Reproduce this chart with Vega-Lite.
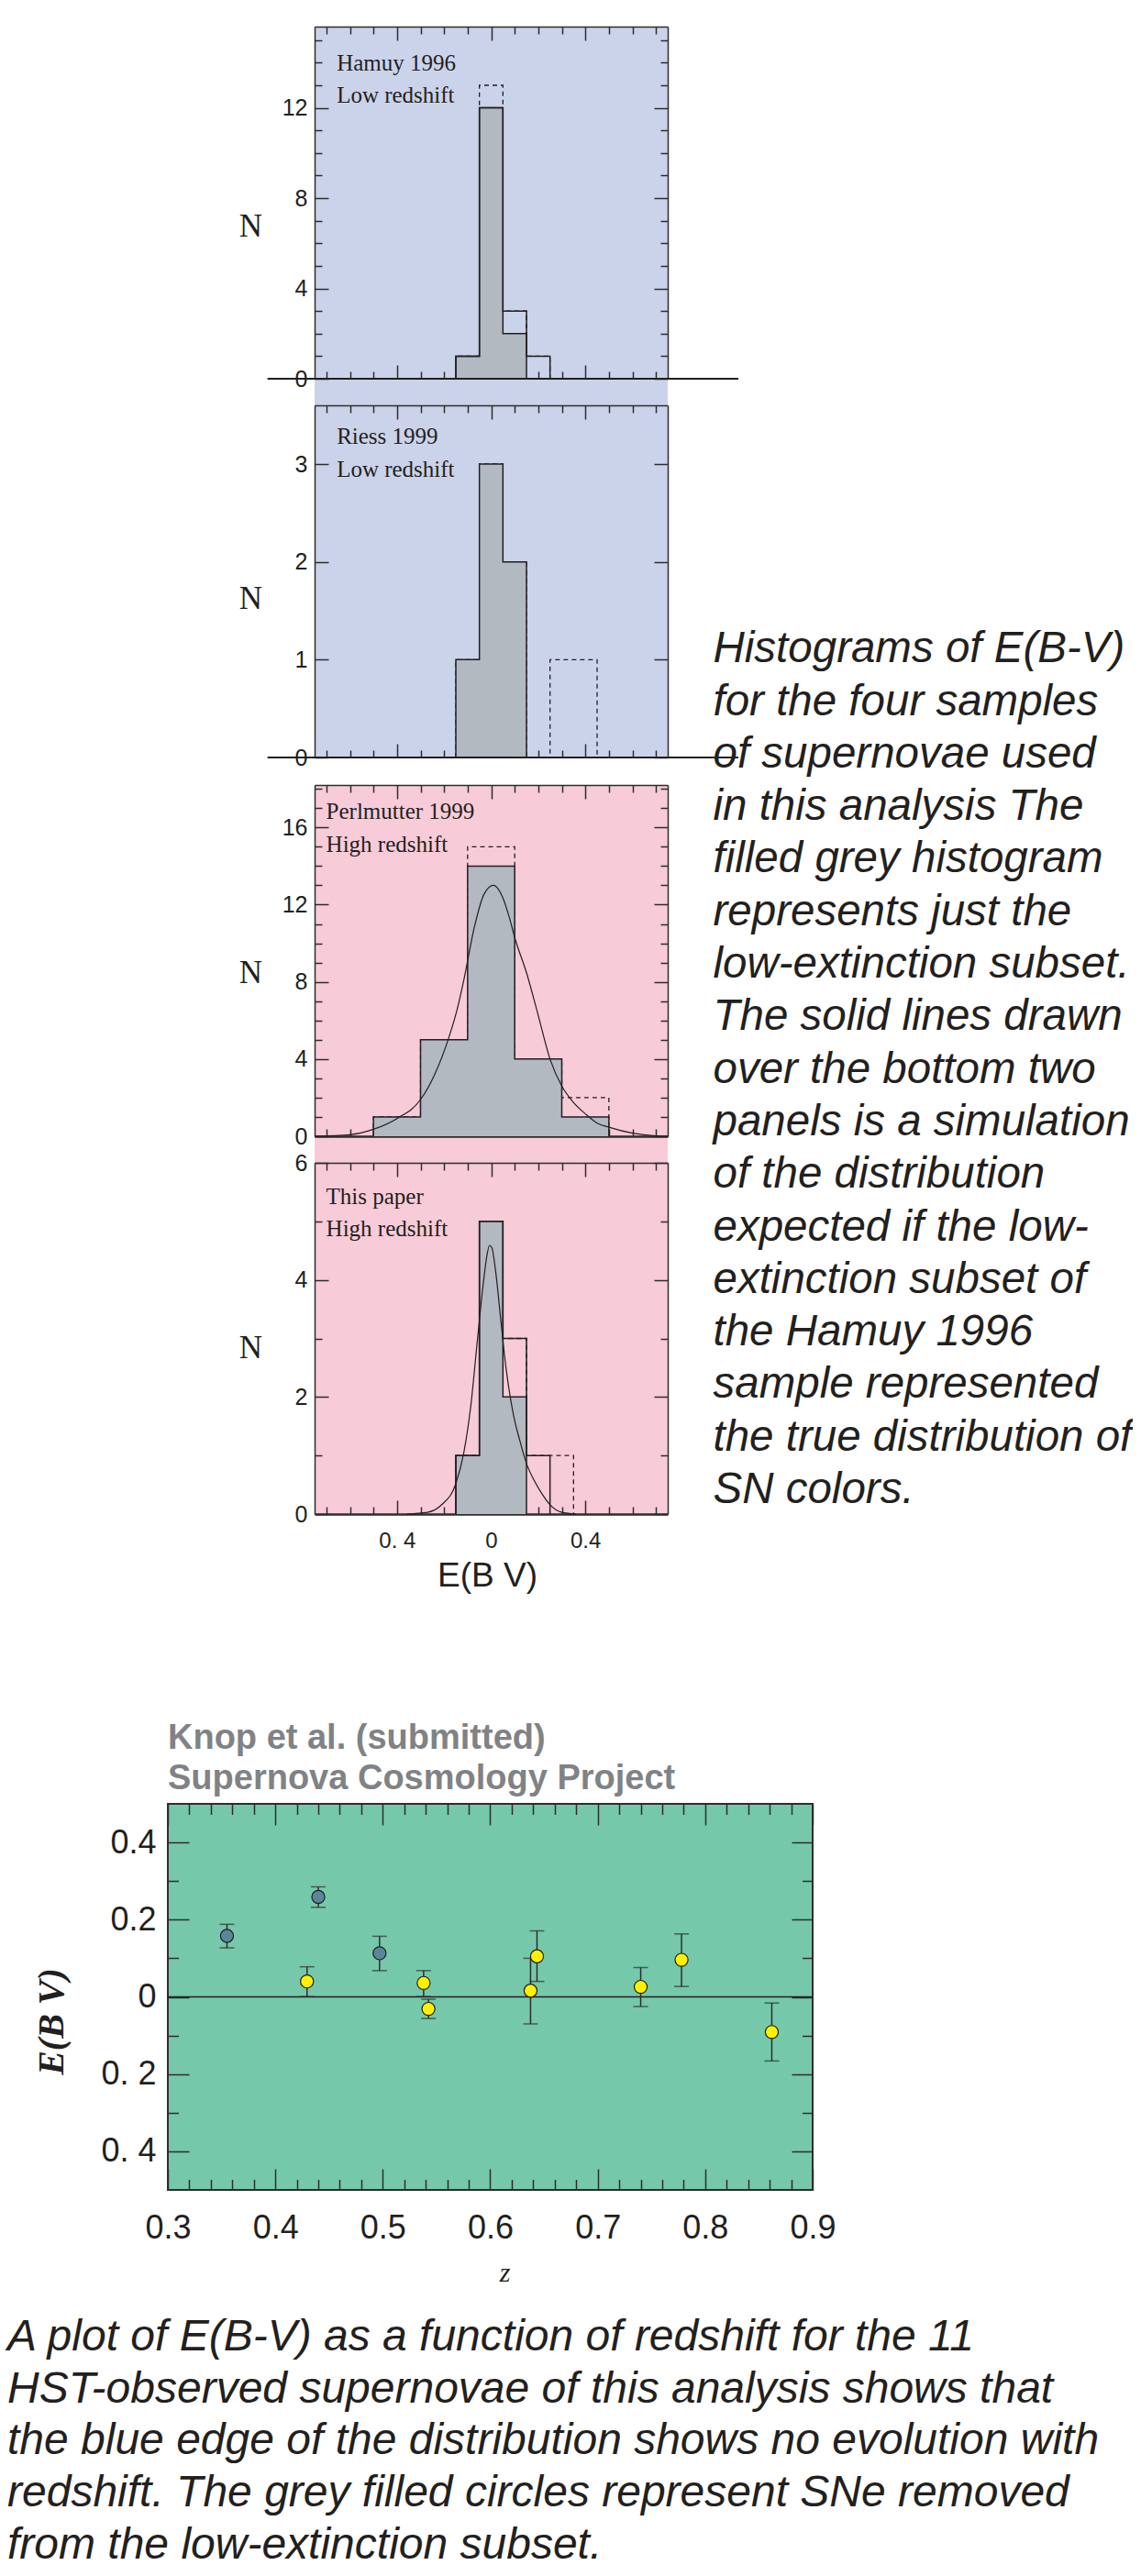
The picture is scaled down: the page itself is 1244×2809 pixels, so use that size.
{
  "$schema": "https://vega.github.io/schema/vega-lite/v6.json",
  "background": "white",
  "padding": {"left": 8, "top": 28, "right": 0, "bottom": 0},
  "autosize": {"type": "pad"},
  "spacing": 140,
  "title": {
    "text": ["A plot of E(B-V) as a function of redshift for the 11", "HST-observed supernovae of this analysis shows that", "the blue edge of the distribution shows no evolution with", "redshift.  The grey filled circles represent SNe removed", "from the low-extinction subset."],
    "orient": "bottom", "anchor": "start", "frame": "group", "dx": -175, "offset": 69, "baseline": "alphabetic",
    "font": "Liberation Sans", "fontSize": 48, "fontStyle": "italic", "fontWeight": "normal", "lineHeight": 56.7, "color": "#231f20"
  },
  "datasets": {
    "hist": [
      {"p": 1, "s": "all", "i": 0, "x": -0.15, "n": 0}, {"p": 1, "s": "all", "i": 1, "x": -0.15, "n": 1}, {"p": 1, "s": "all", "i": 2, "x": -0.05, "n": 13}, {"p": 1, "s": "all", "i": 3, "x": 0.05, "n": 3}, {"p": 1, "s": "all", "i": 4, "x": 0.15, "n": 1}, {"p": 1, "s": "all", "i": 5, "x": 0.25, "n": 0},
      {"p": 1, "s": "sub", "i": 0, "x": -0.15, "n": 0}, {"p": 1, "s": "sub", "i": 1, "x": -0.15, "n": 1}, {"p": 1, "s": "sub", "i": 2, "x": -0.05, "n": 12}, {"p": 1, "s": "sub", "i": 3, "x": 0.05, "n": 3}, {"p": 1, "s": "sub", "i": 4, "x": 0.15, "n": 1}, {"p": 1, "s": "sub", "i": 5, "x": 0.25, "n": 0},
      {"p": 1, "s": "low", "i": 0, "x": -0.15, "n": 0}, {"p": 1, "s": "low", "i": 1, "x": -0.15, "n": 1}, {"p": 1, "s": "low", "i": 2, "x": -0.05, "n": 12}, {"p": 1, "s": "low", "i": 3, "x": 0.05, "n": 2}, {"p": 1, "s": "low", "i": 4, "x": 0.15, "n": 0},
      {"p": 2, "s": "all", "i": 0, "x": -0.15, "n": 0}, {"p": 2, "s": "all", "i": 1, "x": -0.15, "n": 1}, {"p": 2, "s": "all", "i": 2, "x": -0.05, "n": 3}, {"p": 2, "s": "all", "i": 3, "x": 0.05, "n": 2}, {"p": 2, "s": "all", "i": 4, "x": 0.15, "n": 0}, {"p": 2, "s": "all", "i": 5, "x": 0.25, "n": 1}, {"p": 2, "s": "all", "i": 6, "x": 0.35, "n": 1}, {"p": 2, "s": "all", "i": 7, "x": 0.45, "n": 0},
      {"p": 2, "s": "low", "i": 0, "x": -0.15, "n": 0}, {"p": 2, "s": "low", "i": 1, "x": -0.15, "n": 1}, {"p": 2, "s": "low", "i": 2, "x": -0.05, "n": 3}, {"p": 2, "s": "low", "i": 3, "x": 0.05, "n": 2}, {"p": 2, "s": "low", "i": 4, "x": 0.15, "n": 0},
      {"p": 3, "s": "all", "i": 0, "x": -0.5, "n": 0}, {"p": 3, "s": "all", "i": 1, "x": -0.5, "n": 1}, {"p": 3, "s": "all", "i": 2, "x": -0.3, "n": 5}, {"p": 3, "s": "all", "i": 3, "x": -0.1, "n": 15}, {"p": 3, "s": "all", "i": 4, "x": 0.1, "n": 4}, {"p": 3, "s": "all", "i": 5, "x": 0.3, "n": 2}, {"p": 3, "s": "all", "i": 6, "x": 0.5, "n": 0},
      {"p": 3, "s": "low", "i": 0, "x": -0.5, "n": 0}, {"p": 3, "s": "low", "i": 1, "x": -0.5, "n": 1}, {"p": 3, "s": "low", "i": 2, "x": -0.3, "n": 5}, {"p": 3, "s": "low", "i": 3, "x": -0.1, "n": 14}, {"p": 3, "s": "low", "i": 4, "x": 0.1, "n": 4}, {"p": 3, "s": "low", "i": 5, "x": 0.3, "n": 1}, {"p": 3, "s": "low", "i": 6, "x": 0.5, "n": 0},
      {"p": 4, "s": "all", "i": 0, "x": -0.15, "n": 0}, {"p": 4, "s": "all", "i": 1, "x": -0.15, "n": 1}, {"p": 4, "s": "all", "i": 2, "x": -0.05, "n": 5}, {"p": 4, "s": "all", "i": 3, "x": 0.05, "n": 3}, {"p": 4, "s": "all", "i": 4, "x": 0.15, "n": 1}, {"p": 4, "s": "all", "i": 5, "x": 0.25, "n": 1}, {"p": 4, "s": "all", "i": 6, "x": 0.35, "n": 0},
      {"p": 4, "s": "sub", "i": 0, "x": -0.15, "n": 0}, {"p": 4, "s": "sub", "i": 1, "x": -0.15, "n": 1}, {"p": 4, "s": "sub", "i": 2, "x": -0.05, "n": 5}, {"p": 4, "s": "sub", "i": 3, "x": 0.05, "n": 3}, {"p": 4, "s": "sub", "i": 4, "x": 0.15, "n": 1}, {"p": 4, "s": "sub", "i": 5, "x": 0.25, "n": 0},
      {"p": 4, "s": "low", "i": 0, "x": -0.15, "n": 0}, {"p": 4, "s": "low", "i": 1, "x": -0.15, "n": 1}, {"p": 4, "s": "low", "i": 2, "x": -0.05, "n": 5}, {"p": 4, "s": "low", "i": 3, "x": 0.05, "n": 2}, {"p": 4, "s": "low", "i": 4, "x": 0.15, "n": 0}
    ],
    "sim": [
      {"p": 3, "x": -0.75, "n": 0}, {"p": 3, "x": -0.6, "n": 0.08}, {"p": 3, "x": -0.5, "n": 0.36}, {"p": 3, "x": -0.4, "n": 0.92}, {"p": 3, "x": -0.3, "n": 1.9}, {"p": 3, "x": -0.24, "n": 3.2}, {"p": 3, "x": -0.18, "n": 5.1}, {"p": 3, "x": -0.146, "n": 6.5}, {"p": 3, "x": -0.116, "n": 8.1}, {"p": 3, "x": -0.072, "n": 10.8}, {"p": 3, "x": -0.03, "n": 12.55}, {"p": 3, "x": 0.01, "n": 13.0}, {"p": 3, "x": 0.048, "n": 12.4}, {"p": 3, "x": 0.078, "n": 11.3}, {"p": 3, "x": 0.1, "n": 10.3}, {"p": 3, "x": 0.152, "n": 8.4}, {"p": 3, "x": 0.197, "n": 6.4}, {"p": 3, "x": 0.25, "n": 4.0}, {"p": 3, "x": 0.3, "n": 2.6}, {"p": 3, "x": 0.346, "n": 1.8}, {"p": 3, "x": 0.4, "n": 1.16}, {"p": 3, "x": 0.45, "n": 0.68}, {"p": 3, "x": 0.5, "n": 0.47}, {"p": 3, "x": 0.6, "n": 0.16}, {"p": 3, "x": 0.7, "n": 0.02}, {"p": 3, "x": 0.75, "n": 0},
      {"p": 4, "x": -0.36, "n": 0}, {"p": 4, "x": -0.27, "n": 0.03}, {"p": 4, "x": -0.21, "n": 0.16}, {"p": 4, "x": -0.15, "n": 0.52}, {"p": 4, "x": -0.116, "n": 1.05}, {"p": 4, "x": -0.087, "n": 1.83}, {"p": 4, "x": -0.057, "n": 3.03}, {"p": 4, "x": -0.034, "n": 3.92}, {"p": 4, "x": -0.019, "n": 4.39}, {"p": 4, "x": -0.007, "n": 4.59}, {"p": 4, "x": 0.003, "n": 4.55}, {"p": 4, "x": 0.018, "n": 4.18}, {"p": 4, "x": 0.04, "n": 3.35}, {"p": 4, "x": 0.063, "n": 2.5}, {"p": 4, "x": 0.093, "n": 1.73}, {"p": 4, "x": 0.122, "n": 1.25}, {"p": 4, "x": 0.152, "n": 0.84}, {"p": 4, "x": 0.182, "n": 0.58}, {"p": 4, "x": 0.212, "n": 0.37}, {"p": 4, "x": 0.25, "n": 0.16}, {"p": 4, "x": 0.3, "n": 0.03}, {"p": 4, "x": 0.36, "n": 0}
    ],
    "labels": [
      {"p": 1, "label": ["Hamuy 1996", "Low redshift"]},
      {"p": 2, "label": ["Riess 1999", "Low redshift"]},
      {"p": 3, "label": ["Perlmutter 1999", "High redshift"]},
      {"p": 4, "label": ["This paper", "High redshift"]}
    ],
    "sn": [
      {"z": 0.355, "e": 0.158, "lo": 0.127, "hi": 0.188, "set": "removed"},
      {"z": 0.440, "e": 0.259, "lo": 0.232, "hi": 0.285, "set": "removed"},
      {"z": 0.4295, "e": 0.040, "lo": 0.001, "hi": 0.078, "set": "kept"},
      {"z": 0.497, "e": 0.113, "lo": 0.068, "hi": 0.157, "set": "removed"},
      {"z": 0.538, "e": 0.036, "lo": 0.001, "hi": 0.068, "set": "kept"},
      {"z": 0.5425, "e": -0.031, "lo": -0.056, "hi": -0.006, "set": "kept"},
      {"z": 0.6375, "e": 0.016, "lo": -0.070, "hi": 0.100, "set": "kept"},
      {"z": 0.6435, "e": 0.105, "lo": 0.040, "hi": 0.171, "set": "kept"},
      {"z": 0.740, "e": 0.026, "lo": -0.025, "hi": 0.076, "set": "kept"},
      {"z": 0.778, "e": 0.096, "lo": 0.027, "hi": 0.163, "set": "kept"},
      {"z": 0.862, "e": -0.091, "lo": -0.166, "hi": -0.016, "set": "kept"}
    ],
    "capR": [
      {"line": 1, "text": "Histograms of E(B-V)"}, {"line": 2, "text": "for the four samples"}, {"line": 3, "text": "of supernovae used"}, {"line": 4, "text": "in this analysis The"}, {"line": 5, "text": "filled grey histogram"}, {"line": 6, "text": "represents just the"}, {"line": 7, "text": "low-extinction subset."}, {"line": 8, "text": "The solid lines drawn"}, {"line": 9, "text": "over the bottom two"}, {"line": 10, "text": "panels is a simulation"}, {"line": 11, "text": "of the distribution"}, {"line": 12, "text": "expected if the low-"}, {"line": 13, "text": "extinction subset of"}, {"line": 14, "text": "the Hamuy 1996"}, {"line": 15, "text": "sample represented"}, {"line": 16, "text": "the true distribution of"}, {"line": 17, "text": "SN colors."}
    ]
  },
  "vconcat": [
    {
      "spacing": -26,
      "hconcat": [
        {"width": 103, "height": 1, "data": {"values": []}, "mark": "point"},
        {
          "spacing": 434, "bounds": "flush",
          "hconcat": [
            {
              "spacing": 9,
              "vconcat": [
                {
                  "spacing": 0, "bounds": "flush",
                  "vconcat": [
                    {
                      "width": 385, "height": 413,
                      "view": {"fill": "#cbd3ea"},
                      "resolve": {"axis": {"x": "independent", "y": "independent"}},
                      "layer": [
                        {"data": {"name": "hist"}, "transform": [{"filter": "datum.p == 1 && datum.s == 'all'"}],
                         "mark": {"type": "line", "interpolate": "step-after", "color": "#231f20", "strokeWidth": 1.3, "strokeDash": [5, 4]},
                         "encoding": {
                           "x": {"field": "x", "type": "quantitative", "scale": {"domain": [-0.75, 0.75], "nice": false, "zero": false}, "axis": null},
                           "y": {"field": "n", "type": "quantitative", "scale": {"domain": [0, 15.6], "range": [384, 0], "nice": false, "zero": false}, "axis": null},
                           "order": {"field": "i", "type": "quantitative"}}},
                        {"data": {"name": "hist"}, "transform": [{"filter": "datum.p == 1 && datum.s == 'low' && datum.i > 0"}],
                         "mark": {"type": "area", "interpolate": "step-after", "color": "#b3b9c1", "opacity": 1},
                         "encoding": {
                           "x": {"field": "x", "type": "quantitative", "scale": {"domain": [-0.75, 0.75], "nice": false, "zero": false},
                                 "axis": {"orient": "bottom", "offset": -29, "domain": false, "labels": false, "title": null, "values": [-0.7,-0.6,-0.5,-0.4,-0.3,-0.2,-0.1,0,0.1,0.2,0.3,0.4,0.5,0.6,0.7], "tickSize": {"condition": {"test": "abs(datum.value*2.5 - round(datum.value*2.5)) < 0.001", "value": -15}, "value": -8}}},
                           "y": {"field": "n", "type": "quantitative", "scale": {"domain": [0, 15.6], "range": [384, 0], "nice": false, "zero": false},
                                 "axis": {"orient": "left", "domain": true, "values": [0,1,2,3,4,5,6,7,8,9,10,11,12,13,14,15], "tickSize": {"condition": {"test": "datum.value % 4 == 0", "value": -15}, "value": -8}, "labelExpr": "datum.value % 4 == 0 ? datum.label : ''", "labelFontSize": 25, "labelPadding": 23, "title": "N", "titleFont": "Liberation Serif", "titleFontSize": 35, "titleFontWeight": "normal", "titleAngle": 0, "titleAlign": "center", "titleBaseline": "middle", "titleX": -70, "titleY": 217}},
                           "y2": {"datum": 0}}},
                        {"data": {"name": "hist"}, "transform": [{"filter": "datum.p == 1 && datum.s == 'low'"}],
                         "mark": {"type": "line", "interpolate": "step-after", "color": "#231f20", "strokeWidth": 1.5},
                         "encoding": {
                           "x": {"field": "x", "type": "quantitative", "scale": {"domain": [-0.75, 0.75], "nice": false, "zero": false},
                                 "axis": {"orient": "top", "domain": true, "labels": false, "title": null, "values": [-0.7,-0.6,-0.5,-0.4,-0.3,-0.2,-0.1,0,0.1,0.2,0.3,0.4,0.5,0.6,0.7], "tickSize": {"condition": {"test": "abs(datum.value*2.5 - round(datum.value*2.5)) < 0.001", "value": -15}, "value": -8}}},
                           "y": {"field": "n", "type": "quantitative", "scale": {"domain": [0, 15.6], "range": [384, 0], "nice": false, "zero": false},
                                 "axis": {"orient": "right", "domain": true, "labels": false, "title": null, "values": [0,1,2,3,4,5,6,7,8,9,10,11,12,13,14,15], "tickSize": {"condition": {"test": "datum.value % 4 == 0", "value": -15}, "value": -8}}},
                           "order": {"field": "i", "type": "quantitative"}}},
                        {"data": {"name": "hist"}, "transform": [{"filter": "datum.p == 1 && datum.s == 'sub'"}],
                         "mark": {"type": "line", "interpolate": "step-after", "color": "#231f20", "strokeWidth": 1.5},
                         "encoding": {
                           "x": {"field": "x", "type": "quantitative", "scale": {"domain": [-0.75, 0.75], "nice": false, "zero": false}, "axis": null},
                           "y": {"field": "n", "type": "quantitative", "scale": {"domain": [0, 15.6], "range": [384, 0], "nice": false, "zero": false}, "axis": null},
                           "order": {"field": "i", "type": "quantitative"}}},
                        {"data": {"values": [{}]},
                         "mark": {"type": "rule", "color": "#231f20", "strokeWidth": 2},
                         "encoding": {
                           "x": {"datum": -0.95, "type": "quantitative", "scale": {"domain": [-0.75, 0.75], "nice": false, "zero": false}, "axis": null},
                           "x2": {"datum": 1.05},
                           "y": {"datum": 0, "type": "quantitative", "scale": {"domain": [0, 15.6], "range": [384, 0], "nice": false, "zero": false}, "axis": null}}},
                        {"data": {"name": "labels"}, "transform": [{"filter": "datum.p == 1"}],
                         "mark": {"type": "text", "align": "left", "baseline": "alphabetic", "font": "Liberation Serif", "fontSize": 25, "lineHeight": 35, "color": "#231f20"},
                         "encoding": {
                           "x": {"datum": -0.656, "type": "quantitative", "scale": {"domain": [-0.75, 0.75], "nice": false, "zero": false}, "axis": null},
                           "y": {"datum": 13.66, "type": "quantitative", "scale": {"domain": [0, 15.6], "range": [384, 0], "nice": false, "zero": false}, "axis": null},
                           "text": {"field": "label"}}}
                      ]
                    },
                    {
                      "width": 385, "height": 384,
                      "view": {"fill": "#cbd3ea"},
                      "resolve": {"axis": {"x": "independent", "y": "independent"}},
                      "layer": [
                        {"data": {"name": "hist"}, "transform": [{"filter": "datum.p == 2 && datum.s == 'all'"}],
                         "mark": {"type": "line", "interpolate": "step-after", "color": "#231f20", "strokeWidth": 1.3, "strokeDash": [5, 4]},
                         "encoding": {
                           "x": {"field": "x", "type": "quantitative", "scale": {"domain": [-0.75, 0.75], "nice": false, "zero": false}, "axis": null},
                           "y": {"field": "n", "type": "quantitative", "scale": {"domain": [0, 3.6], "nice": false, "zero": false}, "axis": null},
                           "order": {"field": "i", "type": "quantitative"}}},
                        {"data": {"name": "hist"}, "transform": [{"filter": "datum.p == 2 && datum.s == 'low' && datum.i > 0"}],
                         "mark": {"type": "area", "interpolate": "step-after", "color": "#b3b9c1", "opacity": 1},
                         "encoding": {
                           "x": {"field": "x", "type": "quantitative", "scale": {"domain": [-0.75, 0.75], "nice": false, "zero": false},
                                 "axis": {"orient": "bottom", "domain": false, "labels": false, "title": null, "values": [-0.7,-0.6,-0.5,-0.4,-0.3,-0.2,-0.1,0,0.1,0.2,0.3,0.4,0.5,0.6,0.7], "tickSize": {"condition": {"test": "abs(datum.value*2.5 - round(datum.value*2.5)) < 0.001", "value": -15}, "value": -8}}},
                           "y": {"field": "n", "type": "quantitative", "scale": {"domain": [0, 3.6], "nice": false, "zero": false},
                                 "axis": {"orient": "left", "domain": true, "values": [0,1,2,3], "tickSize": -15, "labelFontSize": 25, "labelPadding": 23, "title": "N", "titleFont": "Liberation Serif", "titleFontSize": 35, "titleFontWeight": "normal", "titleAngle": 0, "titleAlign": "center", "titleBaseline": "middle", "titleX": -70, "titleY": 210}},
                           "y2": {"datum": 0}}},
                        {"data": {"name": "hist"}, "transform": [{"filter": "datum.p == 2 && datum.s == 'low'"}],
                         "mark": {"type": "line", "interpolate": "step-after", "color": "#231f20", "strokeWidth": 1.5},
                         "encoding": {
                           "x": {"field": "x", "type": "quantitative", "scale": {"domain": [-0.75, 0.75], "nice": false, "zero": false},
                                 "axis": {"orient": "top", "domain": true, "labels": false, "title": null, "values": [-0.7,-0.6,-0.5,-0.4,-0.3,-0.2,-0.1,0,0.1,0.2,0.3,0.4,0.5,0.6,0.7], "tickSize": {"condition": {"test": "abs(datum.value*2.5 - round(datum.value*2.5)) < 0.001", "value": -15}, "value": -8}}},
                           "y": {"field": "n", "type": "quantitative", "scale": {"domain": [0, 3.6], "nice": false, "zero": false},
                                 "axis": {"orient": "right", "domain": true, "labels": false, "title": null, "values": [0,1,2,3], "tickSize": -15}},
                           "order": {"field": "i", "type": "quantitative"}}},
                        {"data": {"values": [{}]},
                         "mark": {"type": "rule", "color": "#231f20", "strokeWidth": 2},
                         "encoding": {
                           "x": {"datum": -0.95, "type": "quantitative", "scale": {"domain": [-0.75, 0.75], "nice": false, "zero": false}, "axis": null},
                           "x2": {"datum": 1.05},
                           "y": {"datum": 0, "type": "quantitative", "scale": {"domain": [0, 3.6], "nice": false, "zero": false}, "axis": null}}},
                        {"data": {"name": "labels"}, "transform": [{"filter": "datum.p == 2"}],
                         "mark": {"type": "text", "align": "left", "baseline": "alphabetic", "font": "Liberation Serif", "fontSize": 25, "lineHeight": 36, "color": "#231f20"},
                         "encoding": {
                           "x": {"datum": -0.656, "type": "quantitative", "scale": {"domain": [-0.75, 0.75], "nice": false, "zero": false}, "axis": null},
                           "y": {"datum": 3.21, "type": "quantitative", "scale": {"domain": [0, 3.6], "nice": false, "zero": false}, "axis": null},
                           "text": {"field": "label"}}}
                      ]
                    }
                  ]
                },
                {
                  "spacing": 0, "bounds": "flush",
                  "vconcat": [
                    {
                      "width": 385, "height": 412,
                      "view": {"fill": "#f7cbd8"},
                      "resolve": {"axis": {"x": "independent", "y": "independent"}},
                      "layer": [
                        {"data": {"name": "hist"}, "transform": [{"filter": "datum.p == 3 && datum.s == 'all'"}],
                         "mark": {"type": "line", "interpolate": "step-after", "color": "#231f20", "strokeWidth": 1.3, "strokeDash": [5, 4]},
                         "encoding": {
                           "x": {"field": "x", "type": "quantitative", "scale": {"domain": [-0.75, 0.75], "nice": false, "zero": false}, "axis": null},
                           "y": {"field": "n", "type": "quantitative", "scale": {"domain": [0, 18.2], "range": [383, 0], "nice": false, "zero": false}, "axis": null},
                           "order": {"field": "i", "type": "quantitative"}}},
                        {"data": {"name": "hist"}, "transform": [{"filter": "datum.p == 3 && datum.s == 'low' && datum.i > 0"}],
                         "mark": {"type": "area", "interpolate": "step-after", "color": "#b3b9c1", "opacity": 1},
                         "encoding": {
                           "x": {"field": "x", "type": "quantitative", "scale": {"domain": [-0.75, 0.75], "nice": false, "zero": false},
                                 "axis": {"orient": "bottom", "offset": -29, "domain": true, "domainWidth": 2.5, "labels": false, "title": null, "values": [-0.7,-0.6,-0.5,-0.4,-0.3,-0.2,-0.1,0,0.1,0.2,0.3,0.4,0.5,0.6,0.7], "tickSize": {"condition": {"test": "abs(datum.value*2.5 - round(datum.value*2.5)) < 0.001", "value": -15}, "value": -8}}},
                           "y": {"field": "n", "type": "quantitative", "scale": {"domain": [0, 18.2], "range": [383, 0], "nice": false, "zero": false},
                                 "axis": {"orient": "left", "domain": true, "values": [0,1,2,3,4,5,6,7,8,9,10,11,12,13,14,15,16,17,18], "tickSize": {"condition": {"test": "datum.value % 4 == 0", "value": -15}, "value": -8}, "labelExpr": "datum.value % 4 == 0 ? datum.label : ''", "labelFontSize": 25, "labelPadding": 23, "title": "N", "titleFont": "Liberation Serif", "titleFontSize": 35, "titleFontWeight": "normal", "titleAngle": 0, "titleAlign": "center", "titleBaseline": "middle", "titleX": -70, "titleY": 204}},
                           "y2": {"datum": 0}}},
                        {"data": {"name": "hist"}, "transform": [{"filter": "datum.p == 3 && datum.s == 'low'"}],
                         "mark": {"type": "line", "interpolate": "step-after", "color": "#231f20", "strokeWidth": 1.5},
                         "encoding": {
                           "x": {"field": "x", "type": "quantitative", "scale": {"domain": [-0.75, 0.75], "nice": false, "zero": false},
                                 "axis": {"orient": "top", "domain": true, "labels": false, "title": null, "values": [-0.7,-0.6,-0.5,-0.4,-0.3,-0.2,-0.1,0,0.1,0.2,0.3,0.4,0.5,0.6,0.7], "tickSize": {"condition": {"test": "abs(datum.value*2.5 - round(datum.value*2.5)) < 0.001", "value": -15}, "value": -8}}},
                           "y": {"field": "n", "type": "quantitative", "scale": {"domain": [0, 18.2], "range": [383, 0], "nice": false, "zero": false},
                                 "axis": {"orient": "right", "domain": true, "labels": false, "title": null, "values": [0,1,2,3,4,5,6,7,8,9,10,11,12,13,14,15,16,17,18], "tickSize": {"condition": {"test": "datum.value % 4 == 0", "value": -15}, "value": -8}}},
                           "order": {"field": "i", "type": "quantitative"}}},
                        {"data": {"name": "sim"}, "transform": [{"filter": "datum.p == 3"}],
                         "mark": {"type": "line", "interpolate": "monotone", "color": "#231f20", "strokeWidth": 1.2},
                         "encoding": {
                           "x": {"field": "x", "type": "quantitative", "scale": {"domain": [-0.75, 0.75], "nice": false, "zero": false}, "axis": null},
                           "y": {"field": "n", "type": "quantitative", "scale": {"domain": [0, 18.2], "range": [383, 0], "nice": false, "zero": false}, "axis": null}}},
                        {"data": {"name": "labels"}, "transform": [{"filter": "datum.p == 3"}],
                         "mark": {"type": "text", "align": "left", "baseline": "alphabetic", "font": "Liberation Serif", "fontSize": 25, "lineHeight": 36.5, "color": "#231f20"},
                         "encoding": {
                           "x": {"datum": -0.701, "type": "quantitative", "scale": {"domain": [-0.75, 0.75], "nice": false, "zero": false}, "axis": null},
                           "y": {"datum": 16.45, "type": "quantitative", "scale": {"domain": [0, 18.2], "range": [383, 0], "nice": false, "zero": false}, "axis": null},
                           "text": {"field": "label"}}}
                      ]
                    },
                    {
                      "width": 385, "height": 383,
                      "view": {"fill": "#f7cbd8"},
                      "resolve": {"axis": {"x": "independent", "y": "independent"}},
                      "layer": [
                        {"data": {"name": "hist"}, "transform": [{"filter": "datum.p == 4 && datum.s == 'all'"}],
                         "mark": {"type": "line", "interpolate": "step-after", "color": "#231f20", "strokeWidth": 1.3, "strokeDash": [5, 4]},
                         "encoding": {
                           "x": {"field": "x", "type": "quantitative", "scale": {"domain": [-0.75, 0.75], "nice": false, "zero": false}, "axis": null},
                           "y": {"field": "n", "type": "quantitative", "scale": {"domain": [0, 6], "nice": false, "zero": false}, "axis": null},
                           "order": {"field": "i", "type": "quantitative"}}},
                        {"data": {"name": "hist"}, "transform": [{"filter": "datum.p == 4 && datum.s == 'low' && datum.i > 0"}],
                         "mark": {"type": "area", "interpolate": "step-after", "color": "#b3b9c1", "opacity": 1},
                         "encoding": {
                           "x": {"field": "x", "type": "quantitative", "scale": {"domain": [-0.75, 0.75], "nice": false, "zero": false},
                                 "axis": {"orient": "bottom", "domain": true, "domainWidth": 2.5, "values": [-0.7,-0.6,-0.5,-0.4,-0.3,-0.2,-0.1,0,0.1,0.2,0.3,0.4,0.5,0.6,0.7], "tickSize": {"condition": {"test": "abs(datum.value*2.5 - round(datum.value*2.5)) < 0.001", "value": -15}, "value": -8}, "labelExpr": "abs(datum.value*2.5 - round(datum.value*2.5)) > 0.001 ? '' : (datum.value < -0.01 ? '0. 4' : (datum.value > 0.01 ? '0.4' : '0'))", "labelFontSize": 24, "labelPadding": 32, "title": "E(B V)", "titleFont": "Liberation Sans", "titleFontSize": 37, "titleFontWeight": "normal", "titleX": 188, "titleY": 78, "titleAlign": "center", "titleBaseline": "alphabetic"}},
                           "y": {"field": "n", "type": "quantitative", "scale": {"domain": [0, 6], "nice": false, "zero": false},
                                 "axis": {"orient": "left", "domain": true, "values": [0,1,2,3,4,5,6], "tickSize": {"condition": {"test": "datum.value % 2 == 0", "value": -15}, "value": -8}, "labelExpr": "datum.value % 2 == 0 ? datum.label : ''", "labelFontSize": 25, "labelPadding": 23, "title": "N", "titleFont": "Liberation Serif", "titleFontSize": 35, "titleFontWeight": "normal", "titleAngle": 0, "titleAlign": "center", "titleBaseline": "middle", "titleX": -70, "titleY": 201}},
                           "y2": {"datum": 0}}},
                        {"data": {"name": "hist"}, "transform": [{"filter": "datum.p == 4 && datum.s == 'low'"}],
                         "mark": {"type": "line", "interpolate": "step-after", "color": "#231f20", "strokeWidth": 1.5},
                         "encoding": {
                           "x": {"field": "x", "type": "quantitative", "scale": {"domain": [-0.75, 0.75], "nice": false, "zero": false},
                                 "axis": {"orient": "top", "domain": true, "labels": false, "title": null, "values": [-0.7,-0.6,-0.5,-0.4,-0.3,-0.2,-0.1,0,0.1,0.2,0.3,0.4,0.5,0.6,0.7], "tickSize": {"condition": {"test": "abs(datum.value*2.5 - round(datum.value*2.5)) < 0.001", "value": -15}, "value": -8}}},
                           "y": {"field": "n", "type": "quantitative", "scale": {"domain": [0, 6], "nice": false, "zero": false},
                                 "axis": {"orient": "right", "domain": true, "labels": false, "title": null, "values": [0,1,2,3,4,5,6], "tickSize": {"condition": {"test": "datum.value % 2 == 0", "value": -15}, "value": -8}}},
                           "order": {"field": "i", "type": "quantitative"}}},
                        {"data": {"name": "hist"}, "transform": [{"filter": "datum.p == 4 && datum.s == 'sub'"}],
                         "mark": {"type": "line", "interpolate": "step-after", "color": "#231f20", "strokeWidth": 1.5},
                         "encoding": {
                           "x": {"field": "x", "type": "quantitative", "scale": {"domain": [-0.75, 0.75], "nice": false, "zero": false}, "axis": null},
                           "y": {"field": "n", "type": "quantitative", "scale": {"domain": [0, 6], "nice": false, "zero": false}, "axis": null},
                           "order": {"field": "i", "type": "quantitative"}}},
                        {"data": {"name": "sim"}, "transform": [{"filter": "datum.p == 4"}],
                         "mark": {"type": "line", "interpolate": "monotone", "color": "#231f20", "strokeWidth": 1.2},
                         "encoding": {
                           "x": {"field": "x", "type": "quantitative", "scale": {"domain": [-0.75, 0.75], "nice": false, "zero": false}, "axis": null},
                           "y": {"field": "n", "type": "quantitative", "scale": {"domain": [0, 6], "nice": false, "zero": false}, "axis": null}}},
                        {"data": {"name": "labels"}, "transform": [{"filter": "datum.p == 4"}],
                         "mark": {"type": "text", "align": "left", "baseline": "alphabetic", "font": "Liberation Serif", "fontSize": 25, "lineHeight": 35, "color": "#231f20"},
                         "encoding": {
                           "x": {"datum": -0.701, "type": "quantitative", "scale": {"domain": [-0.75, 0.75], "nice": false, "zero": false}, "axis": null},
                           "y": {"datum": 5.295, "type": "quantitative", "scale": {"domain": [0, 6], "nice": false, "zero": false}, "axis": null},
                           "text": {"field": "label"}}}
                      ]
                    }
                  ]
                }
              ]
            },
            {
              "width": 1, "height": 1610,
              "data": {"name": "capR"},
              "mark": {"type": "text", "align": "left", "baseline": "alphabetic", "font": "Liberation Sans", "fontStyle": "italic", "fontSize": 47.5, "color": "#231f20"},
              "encoding": {
                "y": {"field": "line", "type": "quantitative", "axis": null, "scale": {"domain": [-11.1, 17], "reverse": true, "nice": false, "zero": false}},
                "text": {"field": "text"}
              }
            }
          ]
        }
      ]
    },
    {
      "width": 703, "height": 421,
      "view": {"fill": "#76c8aa", "stroke": "#2d2d2d", "strokeWidth": 2},
      "title": {"text": ["Knop et al. (submitted)", "Supernova Cosmology Project"], "orient": "top", "anchor": "start", "frame": "group", "baseline": "alphabetic", "offset": -22.8, "lineHeight": 44, "font": "Liberation Sans", "fontSize": 38, "fontWeight": "bold", "color": "#808285"},
      "resolve": {"axis": {"x": "independent", "y": "independent"}},
      "layer": [
        {"data": {"values": [{}]},
         "mark": {"type": "rule", "color": "#231f20", "strokeWidth": 1.5},
         "encoding": {"y": {"datum": 0, "type": "quantitative", "scale": {"domain": [-0.5, 0.5], "nice": false, "zero": false}, "axis": null}}},
        {"data": {"name": "sn"},
         "mark": {"type": "errorbar", "ticks": {"size": 16}, "thickness": 1.5, "color": "#2d2d2d"},
         "encoding": {
           "x": {"field": "z", "type": "quantitative", "scale": {"domain": [0.3, 0.9], "nice": false, "zero": false},
                 "axis": {"orient": "top", "domain": false, "labels": false, "title": null, "values": [0.3,0.32,0.34,0.36,0.38,0.4,0.42,0.44,0.46,0.48,0.5,0.52,0.54,0.56,0.58,0.6,0.62,0.64,0.66,0.68,0.7,0.72,0.74,0.76,0.78,0.8,0.82,0.84,0.86,0.88,0.9], "tickSize": {"condition": {"test": "abs(datum.value*10 - round(datum.value*10)) < 0.001", "value": -23}, "value": -11.5}}},
           "y": {"field": "lo", "type": "quantitative", "scale": {"domain": [-0.5, 0.5], "nice": false, "zero": false},
                 "axis": {"orient": "right", "domain": false, "labels": false, "title": null, "values": [-0.4,-0.3,-0.2,-0.1,0,0.1,0.2,0.3,0.4], "tickSize": {"condition": {"test": "abs(datum.value*5 - round(datum.value*5)) < 0.001", "value": -23}, "value": -11.5}}},
           "y2": {"field": "hi"}}},
        {"data": {"name": "sn"},
         "mark": {"type": "circle", "size": 200, "opacity": 1, "stroke": "#231f20", "strokeWidth": 1.2},
         "encoding": {
           "x": {"field": "z", "type": "quantitative", "scale": {"domain": [0.3, 0.9], "nice": false, "zero": false},
                 "axis": {"orient": "bottom", "domain": false, "values": [0.3,0.32,0.34,0.36,0.38,0.4,0.42,0.44,0.46,0.48,0.5,0.52,0.54,0.56,0.58,0.6,0.62,0.64,0.66,0.68,0.7,0.72,0.74,0.76,0.78,0.8,0.82,0.84,0.86,0.88,0.9], "tickSize": {"condition": {"test": "abs(datum.value*10 - round(datum.value*10)) < 0.001", "value": -23}, "value": -11.5}, "labelExpr": "abs(datum.value*10 - round(datum.value*10)) < 0.001 ? format(datum.value, '.1f') : ''", "labelFontSize": 36, "labelPadding": 47, "title": "z", "titleFont": "Liberation Serif", "titleFontStyle": "italic", "titleFontWeight": "normal", "titleFontSize": 30, "titleX": 367, "titleY": 99, "titleAlign": "center", "titleBaseline": "alphabetic"}},
           "y": {"field": "e", "type": "quantitative", "scale": {"domain": [-0.5, 0.5], "nice": false, "zero": false},
                 "axis": {"orient": "left", "domain": false, "values": [-0.4,-0.3,-0.2,-0.1,0,0.1,0.2,0.3,0.4], "tickSize": {"condition": {"test": "abs(datum.value*5 - round(datum.value*5)) < 0.001", "value": -23}, "value": -11.5}, "labelExpr": "abs(datum.value*5 - round(datum.value*5)) > 0.001 ? '' : (abs(datum.value) < 0.001 ? '0' : (datum.value > 0 ? format(datum.value, '.1f') : '0. ' + format(-datum.value*10, '.0f')))", "labelFontSize": 36, "labelPadding": 36, "title": "E(B V)", "titleFont": "Liberation Serif", "titleFontStyle": "italic", "titleFontWeight": "bold", "titleFontSize": 40, "titleAngle": -90, "titleX": -127, "titleY": 237, "titleAlign": "center", "titleBaseline": "middle"}},
           "fill": {"field": "set", "type": "nominal", "scale": {"domain": ["removed", "kept"], "range": ["#5a8699", "#fff200"]}, "legend": null}}}
      ]
    }
  ],
  "config": {
    "view": {"stroke": null},
    "axis": {"labelFont": "Liberation Sans", "labelColor": "#231f20", "tickColor": "#2d2d2d", "domainColor": "#2d2d2d", "tickWidth": 1.5, "domainWidth": 1.5, "grid": false, "labelOverlap": false, "labelFlush": false, "titleColor": "#231f20"}
  }
}
